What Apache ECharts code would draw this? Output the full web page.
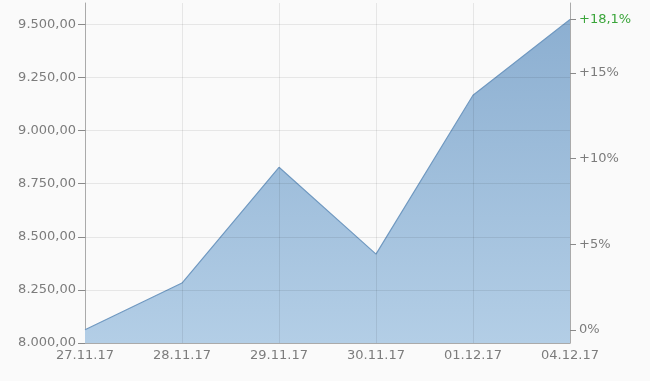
<!DOCTYPE html>
<html><head><meta charset="utf-8">
<script src="https://cdn.jsdelivr.net/npm/echarts@6/dist/echarts.min.js"></script>
<style>html,body{margin:0;padding:0;background:#fafafa}#c{width:650px;height:381px}</style>
</head><body><div id="c"></div>
<script>
const categories = ['27.11.17','28.11.17','29.11.17','30.11.17','01.12.17','04.12.17'];
const values = [8062, 8282, 8827, 8418, 9166, 9522];
const leftTicks = [8000, 8250, 8500, 8750, 9000, 9250, 9500];
const pctTicks = [0, 5, 10, 15];

const base = values[0];
const lastPct = (values[values.length-1]/base - 1) * 100;
function de(v){
  const s = v.toFixed(2).split('.');
  return s[0].replace(/\B(?=(\d{3})+(?!\d))/g,'.') + ',' + s[1];
}
const rightVals = pctTicks.map(p => base*(1+p/100)).concat([values[values.length-1]]);
const font = {fontFamily:'DejaVu Sans', fontSize:13, color:'#7c7c7c'};
const gridColor = 'rgba(0,0,0,0.08)';
const chart = echarts.init(document.getElementById('c'));
chart.setOption({
  backgroundColor:'#fafafa',
  animation:false,
  grid:{left:85,right:80,top:3,bottom:38},
  xAxis:{type:'category',data:categories,boundaryGap:false,
    axisLine:{lineStyle:{color:'#aaaaaa'}},
    axisTick:{show:false},
    axisLabel:Object.assign({margin:6, interval:0},font),
    splitLine:{show:false}},
  yAxis:[{type:'value',min:8000,max:9600,
    axisLine:{show:true,lineStyle:{color:'#aaaaaa'}},
    axisTick:{show:true,inside:false,customValues:leftTicks,length:7,lineStyle:{color:'#8a8a8a'}},
    axisLabel:Object.assign({customValues:leftTicks,formatter:v=>de(v),margin:9},font),
    splitLine:{show:false}},
   {type:'value',min:8000,max:9600,position:'right',
    axisLine:{show:true,lineStyle:{color:'#aaaaaa'}},
    axisTick:{show:true,inside:false,customValues:rightVals,length:6,lineStyle:{color:'#8a8a8a'}},
    axisLabel:Object.assign({customValues:rightVals,margin:9,
      formatter:v=>{
        const p=(v/base-1)*100;
        if (Math.abs(p-lastPct)<0.01) return '{g|+'+p.toFixed(1).replace('.',',')+'%}';
        const r=Math.round(p);
        return (r>0?'+':'')+r+'%';
      },
      rich:{g:{color:'#3aa53a',fontFamily:'DejaVu Sans',fontSize:13}}},font),
    splitLine:{show:false}}],
  series:[
    {type:'line',data:values,symbol:'none',z:2,
    lineStyle:{color:'#7099c1',width:1.2},
    areaStyle:{color:new echarts.graphic.LinearGradient(0,0,0,1,[{offset:0,color:'#8cafd1'},{offset:1,color:'#b3cee6'}]),opacity:1}},
    {type:'line',data:[],z:3,silent:true,
     markLine:{silent:true,symbol:'none',label:{show:false},z:3,
       lineStyle:{color:gridColor,type:'solid',width:1},
       data:leftTicks.slice(1).map(v=>({yAxis:v})).concat(categories.slice(1,-1).map(c=>({xAxis:c})))}}
  ]
});
</script></body></html>
